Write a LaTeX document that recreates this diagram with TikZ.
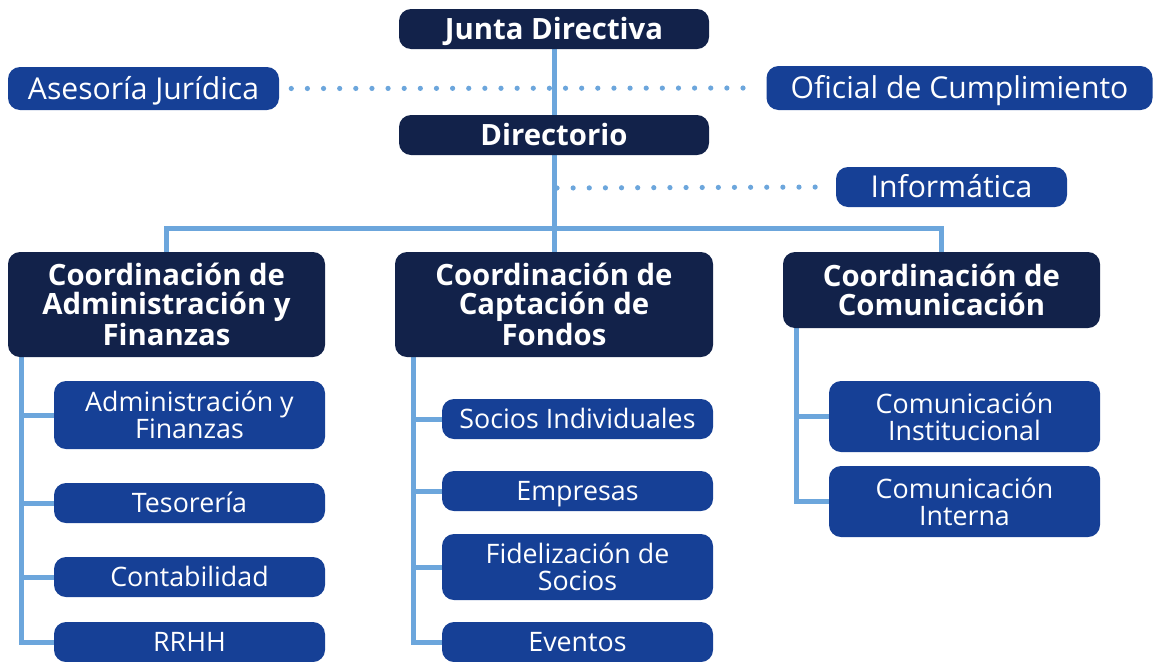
\documentclass[tikz,border=0pt]{standalone}
\usepackage{fontspec}
\setmainfont{Open Sans}
\usetikzlibrary{calc,backgrounds}
\definecolor{navy}{HTML}{12224A}
\definecolor{midblue}{HTML}{164096}
\definecolor{linec}{HTML}{6CA6DC}
\tikzset{
  box/.style={rounded corners=9pt, inner sep=0pt, text=white, align=center, anchor=center},
  topbox/.style={box, fill=navy, font=\bfseries\fontsize{22}{21.75}\selectfont},
  sidebox/.style={box, fill=midblue, font=\fontsize{22.6}{22}\selectfont, text height=16.1pt, text depth=0pt},
  subbox/.style={box, fill=midblue, minimum width=203.25pt, font=\fontsize{20.1}{20.25}\selectfont},
  onebold/.style={text height=15.7pt, text depth=0pt},
  onesub/.style={text height=14.4pt, text depth=0pt},
  conn/.style={draw=linec, line width=3.75pt},
  dotline/.style={draw=linec, line width=3.9pt, line cap=round, dash pattern=on 0pt off 12.1pt},
}
\begin{document}
\begin{tikzpicture}[x=0.75pt,y=-0.75pt]
\useasboundingbox (0,0) rectangle (1153,661);
% nodes
\node[topbox, onebold, minimum width=232.5pt, minimum height=30pt] (jd) at (554,29) {Junta Directiva};
\node[sidebox, minimum width=203.25pt, minimum height=32.25pt] (aj) at (143.5,88.5) {Asesoría Jurídica};
\node[sidebox, minimum width=289.5pt, minimum height=33pt] (oc) at (959.5,88) {Oficial de Cumplimiento};
\node[topbox, onebold, minimum width=232.5pt, minimum height=30pt] (dir) at (554,135) {Directorio};
\node[sidebox, minimum width=173.25pt, minimum height=30pt] (inf) at (951.5,187) {Informática};
\node[topbox, minimum width=237.75pt, minimum height=78.75pt] (c1) at (166.5,304.5) {Coordinación de\\Administración y\\Finanzas};
\node[topbox, minimum width=238.5pt, minimum height=78.75pt] (c2) at (554,304.5) {Coordinación de\\Captación de\\Fondos};
\node[topbox, minimum width=237.75pt, minimum height=57pt] (c3) at (941.5,290) {Coordinación de\\Comunicación};
% column 1
\node[subbox, minimum height=51pt] (s11) at (189.5,415) {Administración y\\Finanzas};
\node[subbox, onesub, minimum height=30pt] (s12) at (189.5,503) {Tesorería};
\node[subbox, onesub, minimum height=30pt] (s13) at (189.5,577) {Contabilidad};
\node[subbox, onesub, minimum height=30pt] (s14) at (189.5,642) {RRHH};
% column 2
\node[subbox, onesub, minimum height=30pt] (s21) at (577.5,419) {Socios Individuales};
\node[subbox, onesub, minimum height=30pt] (s22) at (577.5,491) {Empresas};
\node[subbox, minimum height=49.5pt] (s23) at (577.5,567) {Fidelización de\\Socios};
\node[subbox, onesub, minimum height=30pt] (s24) at (577.5,642) {Eventos};
% column 3
\node[subbox, minimum height=53.25pt] (s31) at (964.5,416.5) {Comunicación\\Institucional};
\node[subbox, minimum height=53.25pt] (s32) at (964.5,501.5) {Comunicación\\Interna};
% connectors
\begin{scope}[on background layer]
  \draw[conn] (jd.south) -- (c2.north);
  \coordinate (bus) at (554,228);
  \draw[conn] (c1.north) |- (bus) -| (c3.north);
  \coordinate (d1a) at ($(aj.east)+(12,0)$);
  \coordinate (d1b) at ($(oc.west)+(-9,0)$);
  \draw[dotline] (d1a) -- (d1b);
  \coordinate (d2a) at (557,188);
  \coordinate (d2b) at ($(inf.west)+(-6,0)$);
  \draw[dotline] (d2a) -- (d2b);
  \coordinate (t1) at ($(c1.south west)+(14,0)$);
  \draw[conn] (t1) |- (s14.west);
  \foreach \s in {s11,s12,s13} \draw[conn] (\s.west) -- (\s.west -| t1);
  \coordinate (t2) at ($(c2.south west)+(19,0)$);
  \draw[conn] (t2) |- (s24.west);
  \foreach \s in {s21,s22,s23} \draw[conn] (\s.west) -- (\s.west -| t2);
  \coordinate (t3) at ($(c3.south west)+(14,0)$);
  \draw[conn] (t3) |- (s32.west);
  \draw[conn] (s31.west) -- (s31.west -| t3);
\end{scope}
\end{tikzpicture}
\end{document}
